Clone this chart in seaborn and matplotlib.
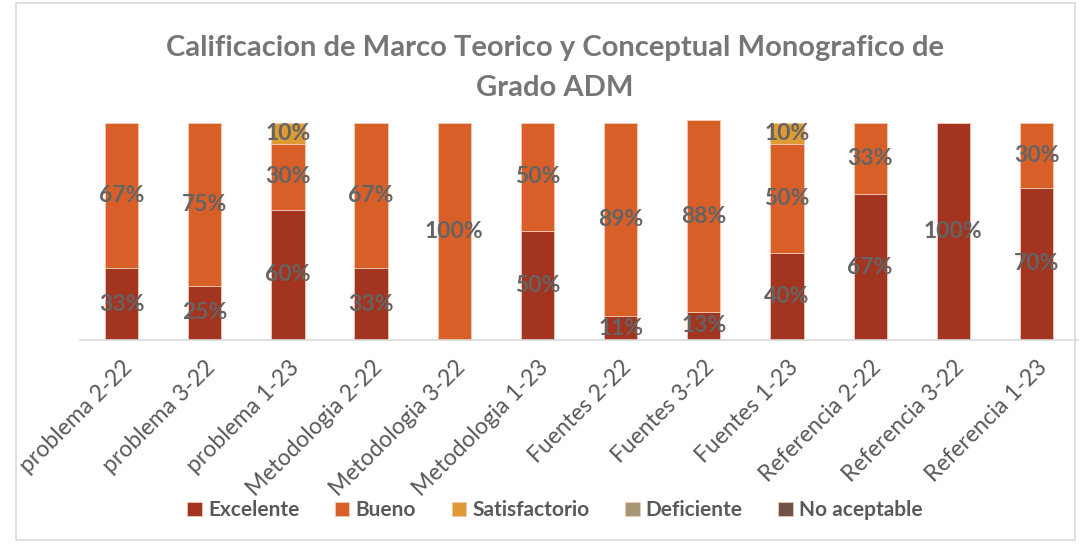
import pandas as pd
import numpy as np
import matplotlib
matplotlib.use("Agg")
import matplotlib.pyplot as plt
import seaborn as sns
from matplotlib.patches import Rectangle

# Datos del grafico
categorias = ["problema 2-22", "problema 3-22", "problema 1-23",
              "Metodologia 2-22", "Metodologia 3-22", "Metodologia 1-23",
              "Fuentes 2-22", "Fuentes 3-22", "Fuentes 1-23",
              "Referencia 2-22", "Referencia 3-22", "Referencia 1-23"]
excelente = [33, 25, 60, 33, 0, 50, 11, 13, 40, 67, 100, 70]
bueno = [67, 75, 30, 67, 100, 50, 89, 88, 50, 33, 0, 30]
satisfactorio = [0, 0, 10, 0, 0, 0, 0, 0, 10, 0, 0, 0]
deficiente = [0] * 12
no_aceptable = [0] * 12

series = ["Excelente", "Bueno", "Satisfactorio", "Deficiente", "No aceptable"]
valores = [excelente, bueno, satisfactorio, deficiente, no_aceptable]
colores = ["#A33420", "#D95F28", "#E09A34", "#A89677", "#6E5349"]

sns.set_theme(style="white")
plt.rcParams["font.family"] = ["Lato", "DejaVu Sans"]

fig = plt.figure(figsize=(10.86, 5.45), dpi=100)
ax = fig.add_axes([0.0737, 0.376, 0.919, 0.405])

base = np.zeros(len(categorias))
for nombre, vals, col in zip(series, valores, colores):
    df = pd.DataFrame({"cat": categorias, "val": np.array(vals) / 100.0})
    sns.barplot(data=df, x="cat", y="val", bottom=base, color=col, width=0.4,
                saturation=1, edgecolor="#F2C9B5", linewidth=0.6, ax=ax,
                label=nombre, errorbar=None)
    for i, v in enumerate(vals):
        if v > 0:
            ax.text(i, base[i] + v / 200.0, f"{v}%", ha="center", va="center",
                    fontsize=16.5, fontweight="bold", color="#646464")
    base = base + np.array(vals) / 100.0

ax.set_ylim(0, 1.015)
ax.set_xlim(-0.5, len(categorias) - 0.5)
ax.set_yticks([])
ax.set_xlabel("")
ax.set_ylabel("")
for s in ["top", "right", "left"]:
    ax.spines[s].set_visible(False)
ax.spines["bottom"].set_color("#D9D9D9")
ax.spines["bottom"].set_linewidth(1.2)
ax.tick_params(axis="x", length=0, pad=12)
plt.setp(ax.get_xticklabels(), rotation=45, ha="right", rotation_mode="anchor",
         fontsize=16.5, color="#595959")

fig.text(0.511, 0.912, "Calificacion de Marco Teorico y Conceptual Monografico de",
         ha="center", va="center", fontsize=21, fontweight="bold", color="#767676")
fig.text(0.511, 0.838, "Grado ADM", ha="center", va="center",
         fontsize=21, fontweight="bold", color="#767676")

ax.legend(loc="center", bbox_to_anchor=(0.511, 0.064), bbox_transform=fig.transFigure,
          ncol=5, frameon=False, prop={"size": 15, "weight": "bold"},
          handlelength=0.7, handleheight=0.7, columnspacing=1.7,
          handletextpad=0.3, labelcolor="#595959")

fig.patches.append(Rectangle((0.015, 0.01), 0.975, 0.985, transform=fig.transFigure,
                             fill=False, edgecolor="#D9D9D9", linewidth=1.2))

fig.savefig("out.png", dpi=100)
